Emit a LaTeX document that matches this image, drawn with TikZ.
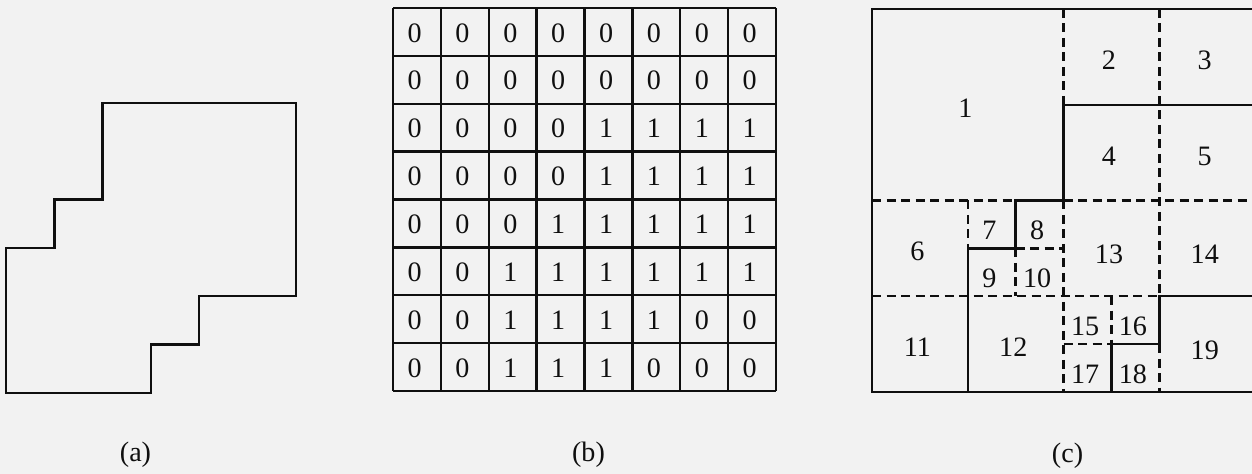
\documentclass[tikz,border=0pt]{standalone}
\usepackage{fontspec}
\setmainfont{Liberation Serif}
\usetikzlibrary{positioning}
\definecolor{ScanPaper}{RGB}{242,242,242}
\definecolor{ScanInk}{RGB}{15,15,15}

\begin{document}
\begin{tikzpicture}[line width=1.4pt,draw=ScanInk,text=ScanInk,
  brk/.style={dash pattern=on 0.18cm off 0.11cm},
  numlbl/.style={font=\fontsize{16}{19}\selectfont,inner sep=0pt},
  caplbl/.style={font=\fontsize{16}{19}\selectfont,inner sep=1pt}]
\clip (0,0) rectangle (25.04,-9.48);
\fill[ScanPaper] (0,0) rectangle (25.04,-9.48);

% (a) region
\begin{scope}[shift={(0.12,-2.06)},x=0.966cm,y=-0.966cm]
\draw (2,0) -- (6,0) -- (6,4) -- (4,4) -- (4,5) -- (3,5) -- (3,6) -- (0,6) -- (0,3) -- (1,3) -- (1,2) -- (2,2) -- cycle;
\end{scope}
\node[caplbl] (capa) at (2.71,-9.1) {(a)};

% (b) binary array
\begin{scope}[shift={(7.86,-0.16)},x=0.9575cm,y=-0.9575cm]
\foreach \i in {0,...,8} {
  \draw (\i,0) -- (\i,8);
  \draw (0,\i) -- (8,\i);
}
\foreach \bits [count=\r from 0] in {
  {0,0,0,0,0,0,0,0},
  {0,0,0,0,0,0,0,0},
  {0,0,0,0,1,1,1,1},
  {0,0,0,0,1,1,1,1},
  {0,0,0,1,1,1,1,1},
  {0,0,1,1,1,1,1,1},
  {0,0,1,1,1,1,0,0},
  {0,0,1,1,1,0,0,0}}
  \foreach \b [count=\c from 0] in \bits
    \node[numlbl] (b-\r-\c) at (\c+0.45,\r+0.52) {\b};
\end{scope}
\node[caplbl] (capb) at (11.77,-9.1) {(b)};

% (c) quadtree blocks
\begin{scope}[shift={(17.44,-0.18)},x=0.9575cm,y=-0.9575cm]
\draw (0,0) rectangle (8,8);
\draw (8,2) -- (4,2) -- (4,4) -- (3,4) -- (3,5) -- (2,5) -- (2,8);
\draw (8,6) -- (6,6) -- (6,7) -- (5,7) -- (5,8);
\draw[brk] (4,0) -- (4,2);
\draw[brk] (4,4) -- (4,8);
\draw[brk] (6,0) -- (6,6);
\draw[brk] (6,7) -- (6,8);
\draw[brk] (0,4) -- (3,4);
\draw[brk] (4,4) -- (8,4);
\draw[brk] (0,6) -- (6,6);
\draw[brk] (2,4) -- (2,5);
\draw[brk] (3,5) -- (4,5);
\draw[brk] (3,5) -- (3,6);
\draw[brk] (4,7) -- (5,7);
\draw[brk] (5,6) -- (5,7);
\foreach \lab/\px/\py in {1/2/2, 2/5/1, 3/7/1, 4/5/3, 5/7/3, 6/1/5,
  7/2.5/4.55, 8/3.5/4.55, 9/2.5/5.55, 10/3.5/5.55, 11/1/7, 12/3/7,
  13/5/5.05, 14/7/5.05, 15/4.5/6.55, 16/5.5/6.55, 17/4.5/7.55,
  18/5.5/7.55, 19/7/7.05}
  \node[numlbl] (q\lab) at (\px-0.05,\py+0.07) {\lab};
\end{scope}
\node[caplbl] (capc) at (21.35,-9.12) {(c)};
\end{tikzpicture}
\end{document}
